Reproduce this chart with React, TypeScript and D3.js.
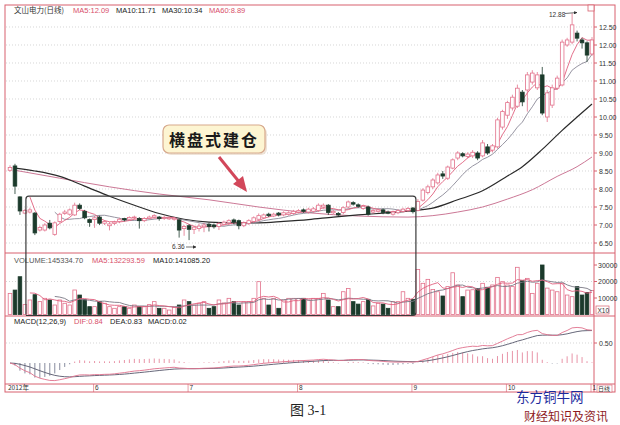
import React from "react";
import * as d3 from "d3";

// daily candles, index 0 = first day on screen
const opens = [
  8.52, 8.64, 7.78, 7.33, 7.36, 7.33, 6.86, 6.86, 7.05, 6.74,
  7.10, 7.32, 7.30, 7.28, 7.55, 7.38, 7.15, 7.15, 7.22, 7.05,
  6.98, 7.04, 7.10, 7.18, 7.16, 7.20, 7.18, 7.12, 7.18, 7.22,
  7.22, 7.18, 7.17, 7.16, 7.14, 6.90, 6.98, 6.88, 6.90, 6.95,
  7.02, 7.00, 6.96, 7.02, 7.06, 7.14, 7.12, 6.98, 7.04, 7.10,
  7.16, 7.20, 7.30, 7.25, 7.33, 7.28, 7.30, 7.32, 7.36, 7.42,
  7.36, 7.38, 7.40, 7.50, 7.55, 7.34, 7.32, 7.35, 7.50, 7.62,
  7.56, 7.46, 7.50, 7.36, 7.38, 7.42, 7.36, 7.30, 7.34, 7.38,
  7.40, 7.47, 7.40, 7.69, 7.90, 8.06, 8.17, 8.42, 8.30, 8.58,
  8.86, 8.98, 8.90, 8.92, 9.00, 8.92, 9.17, 9.08, 9.17, 9.72,
  10.05, 10.25, 10.30, 10.69, 10.75, 10.97, 10.81, 11.17, 10.00, 10.33,
  10.80, 10.89, 12.00, 12.08, 12.33, 12.14, 12.06, 11.75,
];
const closes = [
  8.60, 8.08, 7.39, 7.40, 7.42, 6.78, 6.93, 7.00, 6.92, 7.06,
  7.30, 7.36, 7.42, 7.55, 7.46, 7.20, 7.07, 7.20, 7.05, 7.10,
  7.03, 7.08, 7.16, 7.14, 7.21, 7.22, 7.12, 7.18, 7.22, 7.26,
  7.18, 7.21, 7.20, 7.19, 6.86, 6.96, 6.88, 6.94, 6.97, 7.00,
  6.96, 6.95, 7.04, 7.08, 7.12, 7.08, 6.98, 7.06, 7.12, 7.20,
  7.26, 7.28, 7.26, 7.30, 7.28, 7.34, 7.34, 7.38, 7.40, 7.38,
  7.44, 7.45, 7.55, 7.55, 7.35, 7.38, 7.28, 7.48, 7.64, 7.58,
  7.52, 7.52, 7.30, 7.40, 7.42, 7.35, 7.33, 7.36, 7.40, 7.44,
  7.46, 7.37, 7.65, 7.97, 8.06, 8.25, 8.39, 8.36, 8.61, 8.81,
  9.00, 8.92, 8.97, 9.02, 8.86, 9.28, 9.00, 9.20, 9.92, 10.15,
  10.40, 10.55, 10.80, 10.42, 11.17, 11.22, 11.17, 10.11, 10.67, 10.81,
  11.08, 12.08, 12.14, 12.56, 12.19, 12.06, 11.72, 12.14,
];
const highs = [
  8.66, 8.70, 7.80, 7.45, 7.48, 7.36, 6.98, 7.05, 7.14, 7.10,
  7.34, 7.42, 7.46, 7.62, 7.60, 7.42, 7.18, 7.25, 7.26, 7.14,
  7.08, 7.12, 7.20, 7.20, 7.24, 7.26, 7.22, 7.22, 7.26, 7.30,
  7.25, 7.26, 7.24, 7.22, 7.18, 7.00, 7.02, 6.98, 7.04, 7.06,
  7.06, 7.04, 7.08, 7.12, 7.16, 7.18, 7.15, 7.10, 7.16, 7.24,
  7.32, 7.32, 7.34, 7.34, 7.36, 7.38, 7.38, 7.42, 7.44, 7.46,
  7.48, 7.50, 7.60, 7.60, 7.58, 7.42, 7.36, 7.52, 7.68, 7.66,
  7.60, 7.56, 7.54, 7.44, 7.46, 7.46, 7.40, 7.40, 7.44, 7.48,
  7.50, 7.50, 7.72, 8.02, 8.12, 8.30, 8.45, 8.50, 8.65, 8.85,
  9.05, 9.02, 9.02, 9.08, 9.05, 9.36, 9.25, 9.25, 9.98, 10.20,
  10.45, 10.62, 10.90, 10.75, 11.25, 11.30, 11.25, 11.39, 10.75, 10.90,
  11.15, 12.15, 12.20, 12.88, 12.40, 12.20, 12.10, 12.22,
];
const lows = [
  8.48, 7.86, 7.28, 7.30, 7.32, 6.72, 6.82, 6.82, 6.88, 6.70,
  7.06, 7.28, 7.26, 7.25, 7.42, 7.16, 6.95, 6.92, 7.00, 7.00,
  6.85, 7.00, 7.05, 7.10, 7.12, 7.15, 6.90, 7.08, 7.15, 7.18,
  7.12, 7.14, 7.14, 7.12, 6.65, 6.70, 6.58, 6.75, 6.82, 6.80,
  6.82, 6.90, 6.86, 6.98, 7.00, 7.02, 6.88, 6.94, 7.00, 7.06,
  7.12, 7.16, 7.22, 7.22, 7.24, 7.24, 7.26, 7.28, 7.32, 7.34,
  7.32, 7.34, 7.36, 7.45, 7.28, 7.30, 7.24, 7.30, 7.46, 7.54,
  7.48, 7.42, 7.26, 7.32, 7.34, 7.30, 7.30, 7.26, 7.30, 7.34,
  7.36, 7.32, 7.38, 7.65, 7.85, 8.00, 8.12, 8.28, 8.25, 8.55,
  8.80, 8.88, 8.85, 8.86, 8.80, 8.88, 8.95, 9.02, 9.12, 9.65,
  9.95, 10.18, 10.25, 10.30, 10.15, 10.90, 10.75, 10.05, 9.86, 10.25,
  10.75, 10.85, 11.95, 12.02, 12.10, 11.90, 11.53, 11.70,
];
// volume in axis units (x10)
const volumes = [
  12800, 14800, 22900, 6000, 8800, 12000, 7800, 9800, 8800, 5750,
  8800, 6800, 5750, 14850, 11800, 9000, 4750, 4750, 7800, 6800,
  4750, 3750, 4750, 4750, 3750, 5750, 4750, 4750, 6000, 7800,
  3750, 3750, 2700, 4200, 5750, 8800, 7800, 5750, 6800, 7800,
  3750, 4750, 8800, 7000, 9800, 7800, 5750, 7800, 7800, 9800,
  19900, 9800, 5750, 9800, 3750, 8800, 9800, 9800, 9800, 9800,
  8800, 9800, 9800, 12800, 8800, 4750, 4750, 13800, 15800, 7800,
  6300, 7800, 9200, 5200, 6800, 6300, 3750, 7800, 7800, 13800,
  9800, 9200, 27300, 18900, 21300, 15200, 13800, 11200, 16900, 25300,
  17900, 10800, 14800, 15000, 15800, 18900, 16500, 17900, 22500, 19900,
  17900, 16900, 28600, 20500, 21900, 12800, 18900, 30000, 16000, 14800,
  13800, 18900, 11800, 10800, 16900, 11800, 13400, 14533,
];
// MA30 / MA60: [day index, value]
const ma30Pts: [number, number][] = [
  [1, 8.58], [5, 8.5], [10, 8.35], [15, 8.08], [20, 7.8], [25, 7.55], [30, 7.32],
  [35, 7.16], [40, 7.08], [45, 7.06], [50, 7.06], [55, 7.1], [60, 7.15], [65, 7.22],
  [70, 7.28], [75, 7.33], [81, 7.4], [85, 7.47], [90, 7.7], [95, 7.95], [100, 8.36],
  [103, 8.62], [107, 9.1], [111, 9.63], [114, 10.0], [117, 10.36],
];
const ma60Pts: [number, number][] = [
  [1, 8.52], [10, 8.3], [20, 8.06], [30, 7.86], [40, 7.7], [50, 7.5], [60, 7.34],
  [70, 7.25], [80, 7.22], [85, 7.26], [90, 7.36], [95, 7.5], [100, 7.72],
  [105, 7.98], [110, 8.35], [114, 8.62], [117, 8.89],
];
const priceTicks = [12.5, 12, 11.5, 11, 10.5, 10, 9.5, 9, 8.5, 8, 7.5, 7, 6.5];
const volTicks = [30000, 20000, 10000];
const macdTicks = [0.5];
const months = [
  { i: 17, label: "6" },
  { i: 36, label: "7" },
  { i: 58, label: "8" },
  { i: 81, label: "9" },
  { i: 100, label: "10" },
  { i: 117, label: "1" },
];

const FRAME = "#d8606e";
const UP = "#e2708a";
const DOWN = "#1b3a2b";
const GRID = "#c4c4c4";
const FONT = "'Liberation Sans', Arial, 'Noto Sans CJK SC', sans-serif";
const CJK = "'Noto Sans CJK SC', sans-serif";

const sma = (arr: number[], n: number) =>
  arr.map((_, i) => (i < n - 1 ? null : d3.mean(arr.slice(i - n + 1, i + 1))!));

const ema = (arr: number[], n: number) => {
  const k = 2 / (n + 1);
  const out: number[] = [];
  arr.forEach((v, i) => out.push(i === 0 ? v : v * k + out[i - 1] * (1 - k)));
  return out;
};

export default function App() {
  const x = d3.scaleLinear().domain([0, 117]).range([10, 592]);
  const yP = d3.scaleLinear().domain([6.5, 12.5]).range([243, 27]);
  const yV = d3.scaleLinear().domain([0, 30000]).range([314.5, 265]);
  const yM = d3.scaleLinear().domain([0, 0.5]).range([363, 343]);
  const bw = 3.6;

  const ma5 = sma(closes, 5);
  const ma10 = sma(closes, 10);
  const vma5 = sma(volumes, 5);
  const vma10 = sma(volumes, 10);
  const e12 = ema(closes, 12);
  const e26 = ema(closes, 26);
  const dif = e12.map((v, i) => v - e26[i]);
  const dea = ema(dif, 9);
  const hist = dif.map((v, i) => 2 * (v - dea[i]));

  const lineIdx = (ys: d3.ScaleLinear<number, number>) =>
    d3
      .line<number | null>()
      .defined((d) => d != null)
      .x((_, i) => x(i))
      .y((d) => ys(d as number));
  const linePts = d3
    .line<[number, number]>()
    .x((d) => x(d[0]))
    .y((d) => yP(d[1]))
    .curve(d3.curveMonotoneX);

  const boxL = x(3.2);
  const boxR = x(81.6);
  const boxT = yP(7.8);

  return (
    <div style={{ position: "absolute", left: 0, top: 0, background: "#fff" }}>
      <svg width={620} height={425} style={{ display: "block" }} fontFamily={FONT}>
        <rect width={620} height={425} fill="#fff" />
        <defs>
          <clipPath id="plot">
            <rect x={5} y={5} width={589} height={380} />
          </clipPath>
          <marker id="ah" viewBox="0 0 10 10" refX="9" refY="5" markerWidth="5" markerHeight="5" orient="auto">
            <path d="M0,0 L10,5 L0,10 z" fill="#333" />
          </marker>
        </defs>

        {/* grid */}
        {priceTicks.map((t) => (
          <line key={"g" + t} x1={6} x2={594} y1={yP(t)} y2={yP(t)} stroke={GRID} strokeDasharray="1 2" strokeWidth={0.7} />
        ))}
        {volTicks.slice(1, 2).map((t) => (
          <line key={"gv" + t} x1={6} x2={594} y1={yV(t)} y2={yV(t)} stroke={GRID} strokeDasharray="1 2" strokeWidth={0.7} />
        ))}
        {macdTicks.map((t) => (
          <line key={"gm" + t} x1={6} x2={594} y1={yM(t)} y2={yM(t)} stroke={GRID} strokeDasharray="1 2" strokeWidth={0.7} />
        ))}

        <g clipPath="url(#plot)">
          {/* moving averages */}
          <path d={linePts(ma60Pts)!} fill="none" stroke="#cc7896" strokeWidth={1} />
          <path d={linePts(ma30Pts)!} fill="none" stroke="#2a2a2a" strokeWidth={1.2} />
          <path d={lineIdx(yP)(ma10)!} fill="none" stroke="#8a8896" strokeWidth={0.9} />
          <path d={lineIdx(yP)(ma5)!} fill="none" stroke="#e0607e" strokeWidth={0.9} />

          {/* candles */}
          {closes.map((c, i) => {
            const o = opens[i];
            const up = c >= o;
            const cx = x(i);
            const top = yP(Math.max(o, c));
            const bot = yP(Math.min(o, c));
            const col = up ? UP : DOWN;
            return (
              <g key={"c" + i}>
                <line x1={cx} x2={cx} y1={yP(highs[i])} y2={top} stroke={col} strokeWidth={0.8} />
                <line x1={cx} x2={cx} y1={bot} y2={yP(lows[i])} stroke={col} strokeWidth={0.8} />
                <rect x={cx - bw / 2} y={top} width={bw} height={Math.max(bot - top, 0.9)} fill={up ? "#fff" : DOWN} stroke={col} strokeWidth={0.8} />
              </g>
            );
          })}

          {/* volume */}
          {volumes.map((v, i) => {
            const up = closes[i] >= opens[i];
            return (
              <rect key={"v" + i} x={x(i) - bw / 2} y={yV(v)} width={bw} height={yV(0) - yV(v)} fill={up ? "#fff" : DOWN} stroke={up ? UP : DOWN} strokeWidth={0.8} />
            );
          })}
          <path d={lineIdx(yV)(vma10)!} fill="none" stroke="#7a7885" strokeWidth={0.9} />
          <path d={lineIdx(yV)(vma5)!} fill="none" stroke="#e0607e" strokeWidth={0.9} />

          {/* macd */}
          {hist.map((h, i) => (
            <line key={"m" + i} x1={x(i)} x2={x(i)} y1={yM(0)} y2={yM(h)} stroke={h >= 0 ? "#e27a92" : "#6a6f86"} strokeWidth={0.8} />
          ))}
          <path d={lineIdx(yM)(dea)!} fill="none" stroke="#55566a" strokeWidth={0.9} />
          <path d={lineIdx(yM)(dif)!} fill="none" stroke="#e0708c" strokeWidth={0.9} />
        </g>

        {/* frame */}
        <rect x={5} y={5} width={610} height={387} fill="none" stroke={FRAME} strokeWidth={1} />
        <line x1={594} x2={594} y1={5} y2={392} stroke={FRAME} />
        <line x1={5} x2={615} y1={253} y2={253} stroke={FRAME} />
        <line x1={5} x2={615} y1={316} y2={316} stroke={FRAME} />
        <line x1={5} x2={615} y1={384} y2={384} stroke={FRAME} />
        <rect x={588} y={5} width={6} height={6} fill="#fff" stroke={FRAME} strokeWidth={0.8} />

        {/* right axis */}
        {priceTicks.map((t) => (
          <g key={"pt" + t}>
            <line x1={594} x2={597} y1={yP(t)} y2={yP(t)} stroke={FRAME} />
            <text x={599} y={yP(t) + 2.5} fontSize={7} fill="#333">{t.toFixed(2)}</text>
          </g>
        ))}
        {volTicks.map((t) => (
          <g key={"vt" + t}>
            <line x1={594} x2={597} y1={yV(t)} y2={yV(t)} stroke={FRAME} />
            <text x={598} y={yV(t) + 2.5} fontSize={7} fill="#333">{t}</text>
          </g>
        ))}
        <rect x={596} y={306} width={13} height={8} fill="#fff" stroke={FRAME} strokeWidth={0.7} />
        <text x={597.5} y={312.5} fontSize={6.5} fill="#333">X10</text>
        {macdTicks.map((t) => (
          <g key={"mt" + t}>
            <line x1={594} x2={597} y1={yM(t)} y2={yM(t)} stroke={FRAME} />
            <text x={599} y={yM(t) + 2.5} fontSize={7} fill="#333">{t.toFixed(2)}</text>
          </g>
        ))}

        {/* date row */}
        <text x={8} y={390} fontSize={6.5} fill="#333" fontFamily={CJK}>2012年</text>
        {months.map((m) => (
          <g key={"d" + m.label}>
            <line x1={x(m.i) - 1} x2={x(m.i) - 1} y1={384} y2={392} stroke={FRAME} strokeWidth={0.6} />
            <text x={x(m.i) + 0.5} y={390} fontSize={6.5} fill="#333">{m.label}</text>
          </g>
        ))}
        <rect x={597} y={385} width={15} height={7} fill="#fff" stroke={FRAME} strokeWidth={0.6} />
        <text x={598} y={391} fontSize={6} fill="#333" fontFamily={CJK}>日线</text>

        {/* panel titles */}
        <text y={13} fontSize={7.5} fontFamily={FONT}>
          <tspan x={14} fill="#333" fontFamily={CJK}>文山电力(日线)</tspan>
          <tspan x={73} fill="#d8506a">MA5:12.09</tspan>
          <tspan x={116} fill="#222">MA10:11.71</tspan>
          <tspan x={162} fill="#222">MA30:10.34</tspan>
          <tspan x={209} fill="#d8506a">MA60:8.89</tspan>
        </text>
        <text y={263} fontSize={7.5}>
          <tspan x={14} fill="#555">VOLUME:145334.70</tspan>
          <tspan x={92} fill="#d8506a">MA5:132293.59</tspan>
          <tspan x={153} fill="#222">MA10:141085.20</tspan>
        </text>
        <text y={324} fontSize={7.5}>
          <tspan x={14} fill="#222">MACD(12,26,9)</tspan>
          <tspan x={74} fill="#d8506a">DIF:0.84</tspan>
          <tspan x={110} fill="#222">DEA:0.83</tspan>
          <tspan x={148} fill="#222">MACD:0.02</tspan>
        </text>

        {/* high / low notes */}
        <text x={549} y={17} fontSize={6.5} fill="#333">12.88</text>
        <line x1={565} x2={577} y1={13.5} y2={12.5} stroke="#333" strokeWidth={0.7} markerEnd="url(#ah)" />
        <text x={172} y={249} fontSize={6.5} fill="#333">6.36</text>
        <line x1={186} x2={196} y1={247} y2={247} stroke="#333" strokeWidth={0.7} markerEnd="url(#ah)" />

        {/* consolidation box */}
        <path
          d={`M${boxL},${yV(0)} L${boxL},${boxT + 3} Q${boxL},${boxT} ${boxL + 3},${boxT} L${boxR - 3},${boxT} Q${boxR},${boxT} ${boxR},${boxT + 3} L${boxR},${yV(0) - 2} Q${boxR},${yV(0) + 1} ${boxR - 3},${yV(0) + 1} L${boxL},${yV(0) + 1}`}
          fill="none"
          stroke="#3a3a3a"
          strokeWidth={1.2}
        />

        {/* callout */}
        <rect x={165} y={127} width={102} height={28} rx={6} fill="#e8d8c8" opacity={0.7} />
        <rect x={163} y={125} width={102} height={28} rx={6} fill="#fdf5d2" stroke="#d7a98c" strokeWidth={1.2} />
        <text x={214} y={146} textAnchor="middle" fontSize={16} fontWeight="bold" fill="#1a1a1a" fontFamily={CJK} letterSpacing={2}>
          横盘式建仓
        </text>
        <line x1={219} y1={157} x2={240} y2={183} stroke="#d2475a" strokeWidth={3} />
        <path d="M247,192 L233,184 L243,176 Z" fill="#d2475a" />

        {/* caption & watermark */}
        <text x={290} y={415} fontSize={14} fill="#222" fontFamily="'Liberation Serif', 'Noto Sans CJK SC', serif">图 3-1</text>
        <text x={516} y={402} fontSize={13.5} fill="#1c2a9c" fontFamily={CJK}>东方铜牛网</text>
        <text x={524} y={420.5} fontSize={12} fill="#8e1a1e" fontFamily={CJK}>财经知识及资讯</text>
      </svg>
    </div>
  );
}
